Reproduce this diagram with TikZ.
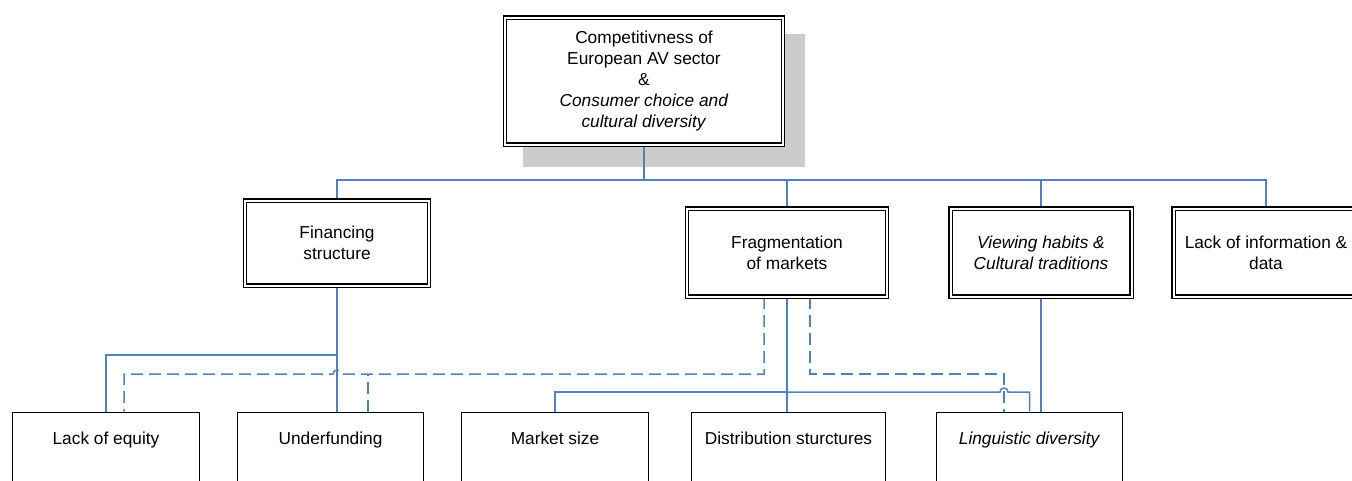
\documentclass[tikz,border=0pt]{standalone}
\usepackage{fontspec}
\setmainfont{Liberation Sans}
\definecolor{lineblue}{HTML}{4F81BD}
\definecolor{shadowgray}{HTML}{CCCCCC}
\pgfdeclarelayer{bg}
\pgfsetlayers{bg,main}
\begin{document}
\begin{tikzpicture}[x=1pt,y=-1pt,
  conn/.style={draw=lineblue, line width=1.5pt},
  dconn/.style={conn, dash pattern=on 12pt off 6pt},
  dbox/.style={draw=black, line width=1.3pt, double=white, double distance=2pt,
    fill=white, align=center, inner sep=0pt,
    font=\fontsize{17.3}{20.8}\selectfont},
  sbox/.style={draw=black, line width=1.5pt, fill=white, anchor=north,
    inner xsep=0pt, inner ysep=20pt, text height=12pt, text depth=70pt,
    font=\fontsize{17.3}{20.8}\selectfont}]
\useasboundingbox (0,0) rectangle (1352,480);
\clip (0,0) rectangle (1352,480);

% level 1
\node[dbox, minimum width=278pt, minimum height=127pt] (top) at (644,81)
  {Competitivness of\\European AV sector\\\&\\\textit{Consumer choice and}\\\textit{cultural diversity}};
% level 2
\node[dbox, minimum width=184pt, minimum height=85pt] (fin) at (337,243)
  {Financing\\structure};
\node[dbox, minimum width=200pt, minimum height=88pt] (frag) at (787,252.5)
  {Fragmentation\\of markets};
\node[dbox, minimum width=181pt, minimum height=88pt] (view) at (1041,252.5)
  {\textit{Viewing habits \&}\\\textit{Cultural traditions}};
\node[dbox, minimum width=185pt, minimum height=88pt] (info) at (1266,252.5)
  {Lack of information \&\\data};
% level 3
\node[sbox, minimum width=187pt] (equity) at (106,411.5) {Lack of equity};
\node[sbox, minimum width=186pt] (under) at (330.5,411.5) {Underfunding};
\node[sbox, minimum width=187pt] (market) at (555,411.5) {Market size};
\node[sbox, minimum width=194pt] (distrib) at (788.5,411.5) {Distribution sturctures};
\node[sbox, minimum width=186pt] (ling) at (1029.5,411.5) {\textit{Linguistic diversity}};

\coordinate (bus) at (0,180);
\coordinate (fbus) at (0,355);
\coordinate (dbus) at (0,374);
\coordinate (mbus) at (0,392);

\begin{pgfonlayer}{bg}
  \fill[shadowgray] (523,34) rectangle (805,167);
  % top bus
  \draw[conn] (top.south) -- (top.south |- bus);
  \draw[conn] (fin.north) -- (fin.north |- bus) -- (info.north |- bus) -- (info.north);
  \draw[conn] (frag.north) -- (frag.north |- bus);
  \draw[conn] (view.north) -- (view.north |- bus);
  % financing
  \draw[conn] (fin.south) -- (fin.south |- under.north);
  \draw[conn] (fin.south |- fbus) -- (equity.north |- fbus) -- (equity.north);
  % fragmentation solid
  \draw[conn] (frag.south) -- (frag.south |- distrib.north);
  \draw[conn] (frag.south |- mbus) -- (market.north |- mbus) -- (market.north);
  \coordinate (lx) at ([xshift=-25.5pt]ling.north);
  \draw[conn] (frag.south |- mbus) -- ([xshift=-4pt]lx |- mbus)
     arc[start angle=180, end angle=0, radius=4pt] -- (ling.north |- mbus) -- (ling.north);
  % viewing
  \draw[conn] (view.south) -- (view.south |- ling.north);
  % dashed left
  \coordinate (dl) at ([xshift=-23pt]frag.south);
  \coordinate (eqd) at ([xshift=18pt]equity.north);
  \draw[dconn] (dl) -- (dl |- dbus) -- ([xshift=4pt]fin.south |- dbus)
     arc[start angle=0, end angle=180, radius=4pt] -- (eqd |- dbus) -- (eqd);
  \coordinate (ud) at ([xshift=37.5pt]under.north);
  \draw[dconn] (ud) -- (ud |- dbus);
  % dashed right
  \coordinate (dr) at ([xshift=23pt]frag.south);
  \draw[dconn] (dr) -- (dr |- dbus) -- (lx |- dbus) -- (lx);
\end{pgfonlayer}
\end{tikzpicture}
\end{document}
